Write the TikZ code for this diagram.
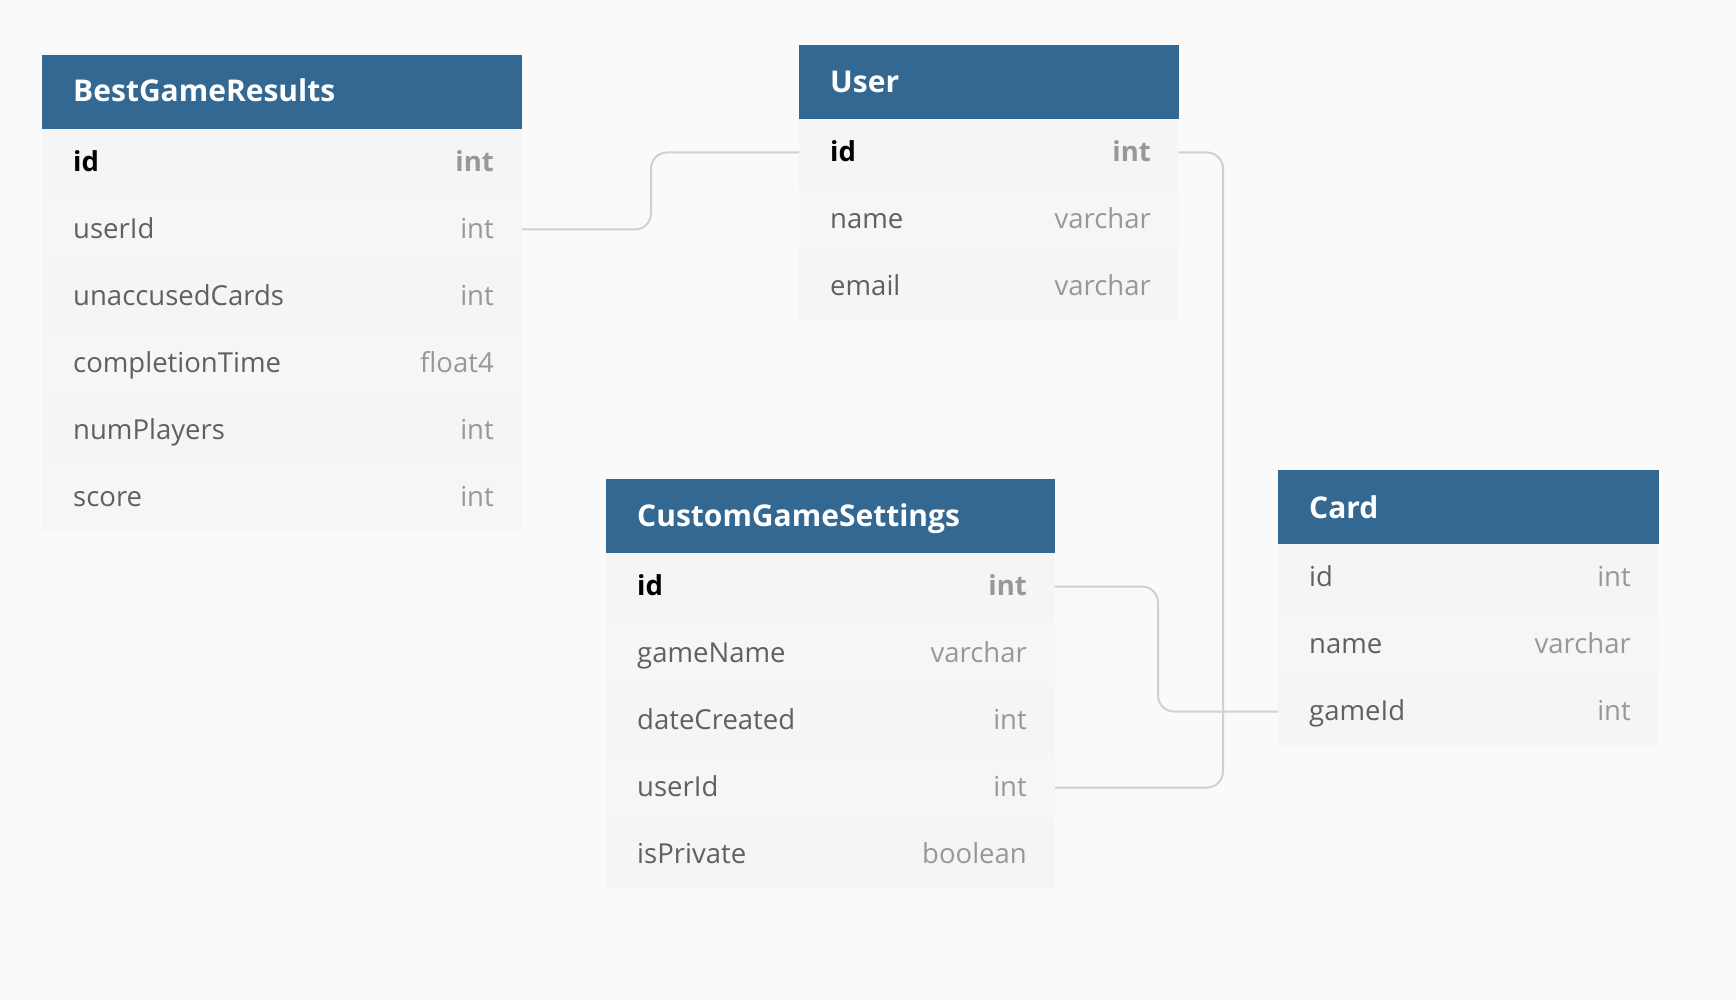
\documentclass[tikz,border=0pt]{standalone}
\usepackage{fontspec}
\setmainfont{Open Sans}
\usepackage{xcolor}
\definecolor{erdBlue}{RGB}{51,104,147}
\definecolor{erdPaper}{RGB}{250,250,250}
\definecolor{erdRowA}{RGB}{245,245,245}
\definecolor{erdRowB}{RGB}{246,246,246}
\definecolor{erdName}{RGB}{96,96,96}
\definecolor{erdType}{RGB}{152,152,152}
\definecolor{erdLink}{RGB}{208,208,208}
\newcommand{\erdTitleFont}{\fontsize{30}{35}\selectfont\bfseries}
\newcommand{\erdFieldFont}{\fontsize{27.5}{32}\selectfont}

\begin{document}
\begin{tikzpicture}[x=1pt,y=-1pt,
  erdhead/.style={anchor=north west, inner sep=0pt, outer sep=0pt, fill=erdBlue, minimum height=74pt},
  erdrow/.style={anchor=north west, inner sep=0pt, outer sep=0pt, fill=erdRowA, minimum height=67pt},
  erdrowb/.style={erdrow, fill=erdRowB},
  erdtitle/.style={anchor=base west, inner sep=0pt, text=white, font=\erdTitleFont},
  erdname/.style={anchor=base west, inner sep=0pt, text=erdName, font=\erdFieldFont},
  erdtype/.style={anchor=base east, inner sep=0pt, text=erdType, font=\erdFieldFont},
  erdpkname/.style={erdname, text=black, font=\erdFieldFont\bfseries},
  erdpktype/.style={erdtype, font=\erdFieldFont\bfseries},
  erdlink/.style={draw=erdLink, line width=2pt, rounded corners=16pt}]
\fill[erdPaper] (0,0) rectangle (1736,1000);
\useasboundingbox (0,0) rectangle (1736,1000);
\node[erdhead, minimum width=480pt] (bgrHead) at (42,55) {};
\node[erdtitle] (bgrTitle) at (73,101.5) {BestGameResults};
\node[erdrow, minimum width=480pt] (bgrId) at (42,129) {};
\node[erdrowb, minimum width=480pt] (bgrUserId) at (42,196) {};
\node[erdrow, minimum width=480pt] (bgrUnaccused) at (42,263) {};
\node[erdrowb, minimum width=480pt] (bgrTime) at (42,330) {};
\node[erdrow, minimum width=480pt] (bgrPlayers) at (42,397) {};
\node[erdrowb, minimum width=480pt] (bgrScore) at (42,464) {};
\node[erdpkname] (bgrIdN) at (73,171.5) {id};
\node[erdpktype] (bgrIdT) at (494,171.5) {int};
\node[erdname] (bgrUserIdN) at (73,238.5) {userId};
\node[erdtype] (bgrUserIdT) at (494,238.5) {int};
\node[erdname] (bgrUnaccusedN) at (73,305.5) {unaccusedCards};
\node[erdtype] (bgrUnaccusedT) at (494,305.5) {int};
\node[erdname] (bgrTimeN) at (73,372.5) {completionTime};
\node[erdtype] (bgrTimeT) at (494,372.5) {float4};
\node[erdname] (bgrPlayersN) at (73,439.5) {numPlayers};
\node[erdtype] (bgrPlayersT) at (494,439.5) {int};
\node[erdname] (bgrScoreN) at (73,506.5) {score};
\node[erdtype] (bgrScoreT) at (494,506.5) {int};
\node[erdhead, minimum width=380pt] (userHead) at (799,45) {};
\node[erdtitle] (userTitle) at (830,92.5) {User};
\node[erdrow, minimum width=380pt] (userId) at (799,119) {};
\node[erdrowb, minimum width=380pt] (userName) at (799,186) {};
\node[erdrow, minimum width=380pt] (userEmail) at (799,253) {};
\node[erdpkname] (userIdN) at (830,161.5) {id};
\node[erdpktype] (userIdT) at (1151,161.5) {int};
\node[erdname] (userNameN) at (830,228.5) {name};
\node[erdtype] (userNameT) at (1151,228.5) {varchar};
\node[erdname] (userEmailN) at (830,295.5) {email};
\node[erdtype] (userEmailT) at (1151,295.5) {varchar};
\node[erdhead, minimum width=449pt] (cgsHead) at (606,479) {};
\node[erdtitle] (cgsTitle) at (637,526.5) {CustomGameSettings};
\node[erdrow, minimum width=449pt] (cgsId) at (606,553) {};
\node[erdrowb, minimum width=449pt] (cgsGameName) at (606,620) {};
\node[erdrow, minimum width=449pt] (cgsDate) at (606,687) {};
\node[erdrowb, minimum width=449pt] (cgsUserId) at (606,754) {};
\node[erdrow, minimum width=449pt] (cgsPrivate) at (606,821) {};
\node[erdpkname] (cgsIdN) at (637,595.5) {id};
\node[erdpktype] (cgsIdT) at (1027,595.5) {int};
\node[erdname] (cgsGameNameN) at (637,662.5) {gameName};
\node[erdtype] (cgsGameNameT) at (1027,662.5) {varchar};
\node[erdname] (cgsDateN) at (637,729.5) {dateCreated};
\node[erdtype] (cgsDateT) at (1027,729.5) {int};
\node[erdname] (cgsUserIdN) at (637,796.5) {userId};
\node[erdtype] (cgsUserIdT) at (1027,796.5) {int};
\node[erdname] (cgsPrivateN) at (637,863.5) {isPrivate};
\node[erdtype] (cgsPrivateT) at (1027,863.5) {boolean};
\node[erdhead, minimum width=381pt] (cardHead) at (1278,470) {};
\node[erdtitle] (cardTitle) at (1309,518) {Card};
\node[erdrow, minimum width=381pt] (cardId) at (1278,544) {};
\node[erdrowb, minimum width=381pt] (cardName) at (1278,611) {};
\node[erdrow, minimum width=381pt] (cardGameId) at (1278,678) {};
\node[erdname] (cardIdN) at (1309,586.5) {id};
\node[erdtype] (cardIdT) at (1631,586.5) {int};
\node[erdname] (cardNameN) at (1309,653.5) {name};
\node[erdtype] (cardNameT) at (1631,653.5) {varchar};
\node[erdname] (cardGameIdN) at (1309,720.5) {gameId};
\node[erdtype] (cardGameIdT) at (1631,720.5) {int};
\draw[erdlink] (bgrUserId.east) -- ++(129,0) |- (userId.west);
\draw[erdlink] (userId.east) -- ++(44,0) |- (cgsUserId.east);
\draw[erdlink] (cgsId.east) -- ++(103,0) |- (cardGameId.west);
\end{tikzpicture}
\end{document}
